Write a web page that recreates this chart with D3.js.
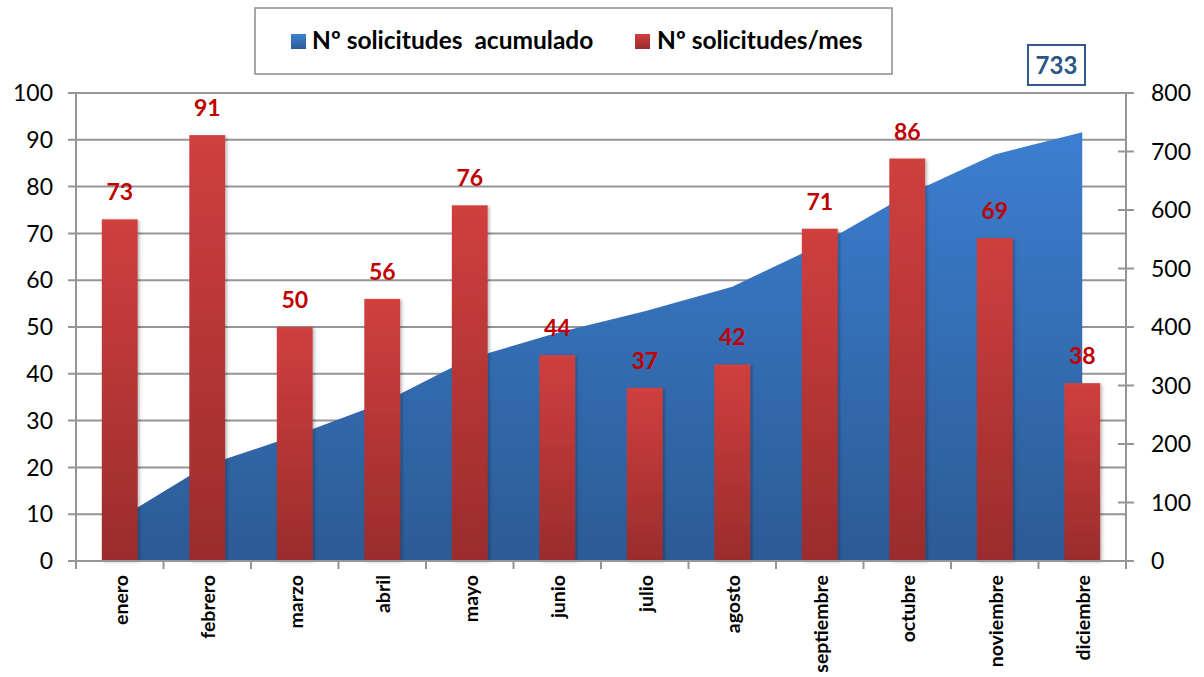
<!DOCTYPE html>
<html>
<head>
<meta charset="utf-8">
<script src="https://cdn.jsdelivr.net/npm/d3@7/dist/d3.min.js"></script>
<style>
  html, body { margin: 0; padding: 0; background: #fff; }
  svg { display: block; font-family: Lato, "Open Sans", sans-serif; }
</style>
</head>
<body>
<svg id="chart" width="1204" height="677"></svg>
<script>
// Monthly requests and running total
const months = ["enero", "febrero", "marzo", "abril", "mayo", "junio",
  "julio", "agosto", "septiembre", "octubre", "noviembre", "diciembre"];
const monthly = [73, 91, 50, 56, 76, 44, 37, 42, 71, 86, 69, 38];
const cumulative = [73, 164, 214, 270, 346, 390, 427, 469, 540, 626, 695, 733];
const leftTicks = [0, 10, 20, 30, 40, 50, 60, 70, 80, 90, 100];
const rightTicks = [0, 100, 200, 300, 400, 500, 600, 700, 800];
const seriesNames = ["Nº solicitudes  acumulado", "Nº solicitudes/mes"];
const totalLabel = "733";

const plot = { left: 76, right: 1126, top: 93, bottom: 561 };
const gridColor = "#959595";

const svg = d3.select("#chart");
const defs = svg.append("defs");

const areaGrad = defs.append("linearGradient")
  .attr("id", "areaGrad").attr("x1", 0).attr("x2", 0)
  .attr("gradientUnits", "userSpaceOnUse")
  .attr("y1", plot.top).attr("y2", plot.bottom);
areaGrad.append("stop").attr("offset", "0%").attr("stop-color", "#3d82d6");
areaGrad.append("stop").attr("offset", "100%").attr("stop-color", "#2c5b95");

const barGrad = defs.append("linearGradient")
  .attr("id", "barGrad").attr("x1", 0).attr("y1", 0).attr("x2", 0).attr("y2", 1);
barGrad.append("stop").attr("offset", "0%").attr("stop-color", "#d03f3e");
barGrad.append("stop").attr("offset", "100%").attr("stop-color", "#9a2c2d");

const legendBlue = defs.append("linearGradient")
  .attr("id", "legBlue").attr("x1", 0).attr("y1", 0).attr("x2", 0).attr("y2", 1);
legendBlue.append("stop").attr("offset", "0%").attr("stop-color", "#3d82d6");
legendBlue.append("stop").attr("offset", "100%").attr("stop-color", "#2c5b95");

const shadow = defs.append("filter").attr("id", "barShadow")
  .attr("x", "-20%").attr("y", "-5%").attr("width", "150%").attr("height", "115%");
shadow.append("feDropShadow").attr("dx", 2).attr("dy", 1).attr("stdDeviation", 1.5)
  .attr("flood-color", "#000").attr("flood-opacity", 0.25);

// Scales
const x = d3.scaleBand().domain(months).range([plot.left, plot.right]).padding(0);
const yLeft = d3.scaleLinear().domain([0, 100]).range([plot.bottom, plot.top]);
const yRight = d3.scaleLinear().domain([0, 800]).range([plot.bottom, plot.top]);
const barW = x.bandwidth() * 0.41;
const cx = m => x(m) + x.bandwidth() / 2;

// Horizontal gridlines
svg.append("g").selectAll("line").data(leftTicks).join("line")
  .attr("x1", plot.left - 8).attr("x2", plot.right)
  .attr("y1", d => yLeft(d)).attr("y2", d => yLeft(d))
  .attr("stroke", gridColor).attr("stroke-width", 2);

// Cumulative area (right axis)
const area = d3.area()
  .x((d, i) => cx(months[i]))
  .y0(plot.bottom)
  .y1(d => yRight(d));
svg.append("path").datum(cumulative)
  .attr("d", area)
  .attr("fill", "url(#areaGrad)");

// Monthly bars (left axis)
svg.append("g").selectAll("rect").data(monthly).join("rect")
  .attr("x", (d, i) => cx(months[i]) - barW / 2)
  .attr("width", barW)
  .attr("y", d => yLeft(d))
  .attr("height", d => plot.bottom - yLeft(d))
  .attr("fill", "url(#barGrad)")
  .attr("filter", "url(#barShadow)");

// Value labels
svg.append("g").selectAll("text").data(monthly).join("text")
  .attr("x", (d, i) => cx(months[i]))
  .attr("y", d => yLeft(d) - 19)
  .attr("text-anchor", "middle")
  .attr("font-size", 23).attr("font-weight", "bold")
  .attr("fill", "#c00000")
  .text(d => d);

// Left axis
const leftAxis = svg.append("g");
leftAxis.append("line")
  .attr("x1", plot.left).attr("x2", plot.left)
  .attr("y1", plot.top).attr("y2", plot.bottom + 8)
  .attr("stroke", gridColor).attr("stroke-width", 2);
leftAxis.selectAll("text").data(leftTicks).join("text")
  .attr("x", 53).attr("y", d => yLeft(d))
  .attr("dy", "0.36em")
  .attr("text-anchor", "end")
  .attr("font-size", 23).attr("fill", "#000")
  .text(d => d);

// Right axis
const rightAxis = svg.append("g");
rightAxis.append("line")
  .attr("x1", plot.right).attr("x2", plot.right)
  .attr("y1", plot.top).attr("y2", plot.bottom + 8)
  .attr("stroke", gridColor).attr("stroke-width", 2);
rightAxis.selectAll("line.tick").data(rightTicks).join("line")
  .attr("class", "tick")
  .attr("x1", plot.right - 8).attr("x2", plot.right + 8)
  .attr("y1", d => yRight(d)).attr("y2", d => yRight(d))
  .attr("stroke", gridColor).attr("stroke-width", 2);
rightAxis.selectAll("text").data(rightTicks).join("text")
  .attr("x", 1151).attr("y", d => yRight(d))
  .attr("dy", "0.36em")
  .attr("text-anchor", "start")
  .attr("font-size", 23).attr("fill", "#000")
  .text(d => d);

// Category axis
const bottomAxis = svg.append("g");
bottomAxis.append("line")
  .attr("x1", plot.left - 8).attr("x2", plot.right + 8)
  .attr("y1", plot.bottom).attr("y2", plot.bottom)
  .attr("stroke", gridColor).attr("stroke-width", 2);
bottomAxis.selectAll("line.tick").data(months.slice(1)).join("line")
  .attr("class", "tick")
  .attr("x1", d => x(d)).attr("x2", d => x(d))
  .attr("y1", plot.bottom).attr("y2", plot.bottom + 8)
  .attr("stroke", gridColor).attr("stroke-width", 2);
bottomAxis.selectAll("text").data(months).join("text")
  .attr("transform", d => `translate(${cx(d) + 1},575) rotate(-90)`)
  .attr("dy", "0.35em")
  .attr("text-anchor", "end")
  .attr("font-size", 19.5).attr("font-weight", "bold")
  .attr("fill", "#000")
  .text(d => d);

// Legend
const legend = svg.append("g");
legend.append("rect")
  .attr("x", 255).attr("y", 8).attr("width", 637).attr("height", 66)
  .attr("fill", "#fff").attr("stroke", "#8c8c8c").attr("stroke-width", 1.5);
const legendItems = [
  { name: seriesNames[0], fill: "url(#legBlue)", sx: 291, tx: 312 },
  { name: seriesNames[1], fill: "url(#barGrad)", sx: 635, tx: 657 }
];
legend.selectAll("rect.key").data(legendItems).join("rect")
  .attr("class", "key")
  .attr("x", d => d.sx).attr("y", 34).attr("width", 15).attr("height", 15)
  .attr("fill", d => d.fill);
legend.selectAll("text").data(legendItems).join("text")
  .attr("x", d => d.tx).attr("y", 49)
  .attr("font-size", 24.5).attr("font-weight", "bold")
  .attr("fill", "#000")
  .style("white-space", "pre")
  .text(d => d.name);

// Running total callout
const callout = svg.append("g");
callout.append("rect")
  .attr("x", 1028).attr("y", 45).attr("width", 57).attr("height", 40)
  .attr("fill", "#fff").attr("stroke", "#2e5b8c").attr("stroke-width", 2);
callout.append("text")
  .attr("x", 1056.5).attr("y", 65).attr("dy", "0.36em")
  .attr("text-anchor", "middle")
  .attr("font-size", 24).attr("font-weight", "bold")
  .attr("fill", "#2a5585")
  .text(totalLabel);
</script>
</body>
</html>
